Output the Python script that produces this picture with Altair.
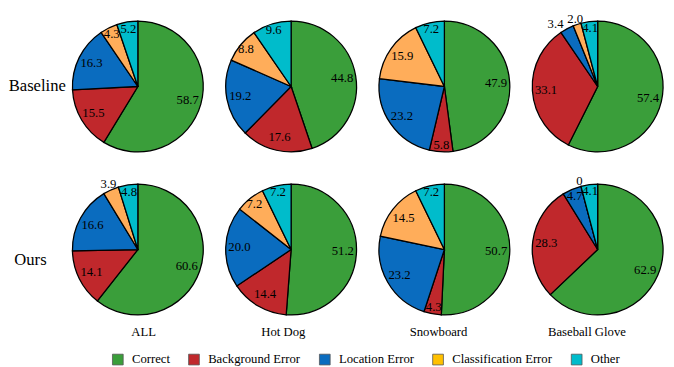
import altair as alt
import pandas as pd

categories = ["Correct", "Background Error", "Location Error", "Classification Error", "Other"]
groups = ["ALL", "Hot Dog", "Snowboard", "Baseball Glove"]
methods = ["Baseline", "Ours"]

baseline_all = [58.7, 15.5, 16.3, 4.3, 5.2]
baseline_hotdog = [44.8, 17.6, 19.2, 8.8, 9.6]
baseline_snowboard = [47.9, 5.8, 23.2, 15.9, 7.2]
baseline_glove = [57.4, 33.1, 3.4, 2.0, 4.1]
ours_all = [60.6, 14.1, 16.6, 3.9, 4.8]
ours_hotdog = [51.2, 14.4, 20.0, 7.2, 7.2]
ours_snowboard = [50.7, 4.3, 23.2, 14.5, 7.2]
ours_glove = [62.9, 28.3, 4.7, 0.0, 4.1]

pie_colors = ["#3a9e3a", "#c0282c", "#0a6cbf", "#ffad5a", "#00bccb"]
legend_colors = ["#3a9e3a", "#c0282c", "#0a6cbf", "#ffc000", "#00bccb"]

series = {
    ("Baseline", "ALL"): baseline_all,
    ("Baseline", "Hot Dog"): baseline_hotdog,
    ("Baseline", "Snowboard"): baseline_snowboard,
    ("Baseline", "Baseball Glove"): baseline_glove,
    ("Ours", "ALL"): ours_all,
    ("Ours", "Hot Dog"): ours_hotdog,
    ("Ours", "Snowboard"): ours_snowboard,
    ("Ours", "Baseball Glove"): ours_glove,
}

# small manual label nudges (degrees, extra radius), as in the original figure
nudges = {("Baseline", "Baseball Glove", "Location Error"): (-6, 4)}

records = []
for (m, g), vals in series.items():
    for i, (c, v) in enumerate(zip(categories, vals)):
        nd, nr = nudges.get((m, g, c), (0, 0))
        records.append(dict(method=m, group=g, cat=c, order=i, value=v,
                            label=("0" if v == 0 else f"{v:.1f}"), nd=nd, nr=nr))
df = pd.DataFrame(records)

FONT = "Liberation Serif"
R = 67
PW, PH = 136, 144
CX, CY = 68, 76
LW = 60
HSP = 17
label_dx = {"ALL": 8, "Hot Dog": -2, "Snowboard": 4, "Baseball Glove": 3}


def pie(m, g):
    filt = (alt.datum.method == m) & (alt.datum.group == g)
    arcs = alt.Chart(df).transform_filter(filt).mark_arc(
        outerRadius=R, stroke="black", strokeWidth=1.3
    ).encode(
        theta=alt.Theta("value:Q", stack=True),
        order=alt.Order("order:Q", sort="ascending"),
        x=alt.value(CX),
        y=alt.value(CY),
        color=alt.Color("cat:N", scale=alt.Scale(domain=categories, range=pie_colors), legend=None),
    )
    labels = alt.Chart(df).transform_filter(filt).transform_joinaggregate(
        total="sum(value)"
    ).transform_window(
        cum="sum(value)", sort=[alt.SortField("order")], frame=[None, 0]
    ).transform_calculate(
        mid="(datum.cum - datum.value / 2) / datum.total * 2 * PI + datum.nd * PI / 180",
        lr="(datum.value < 4 ? 73 : (datum.value < 10 ? 60 : 53)) + datum.nr",
    ).mark_text(font=FONT, fontSize=13, color="black").encode(
        theta=alt.Theta("mid:Q", scale=None, stack=None),
        radius=alt.Radius("lr:Q", scale=None),
        x=alt.value(CX),
        y=alt.value(CY),
        text="label:N",
    )
    return alt.layer(arcs, labels).properties(width=PW, height=PH)


def row_label(m, x, y):
    return alt.Chart(pd.DataFrame({"method": [m]})).mark_text(
        font=FONT, fontSize=17, align="center", baseline="middle", color="black"
    ).encode(text="method:N", x=alt.value(x), y=alt.value(y)).properties(width=LW, height=PH)


def col_label(g):
    return alt.Chart(pd.DataFrame({"group": [g]})).mark_text(
        font=FONT, fontSize=13, align="center", baseline="middle", color="black"
    ).encode(text="group:N", x=alt.value(PW / 2 + label_dx[g]), y=alt.value(15)).properties(width=PW, height=26)


blank = alt.Chart(pd.DataFrame({"a": [0]})).mark_point(opacity=0, size=0).encode(
    x=alt.value(0), y=alt.value(0)
).properties(width=LW, height=26)

row1 = alt.hconcat(row_label("Baseline", 30, 76),
                   alt.hconcat(*[pie("Baseline", g) for g in groups], spacing=HSP), spacing=3)
row2 = alt.hconcat(row_label("Ours", 23, 87),
                   alt.hconcat(*[pie("Ours", g) for g in groups], spacing=HSP), spacing=3)
labels_row = alt.hconcat(blank, alt.hconcat(*[col_label(g) for g in groups], spacing=HSP), spacing=3)

legend_chart = alt.Chart(pd.DataFrame({"cat": categories})).mark_square(size=0, opacity=1).encode(
    color=alt.Color(
        "cat:N",
        scale=alt.Scale(domain=categories, range=legend_colors),
        legend=alt.Legend(
            title=None, orient="none", legendX=106, legendY=10, direction="horizontal",
            symbolType="square", symbolSize=121, symbolStrokeColor="#555555",
            symbolStrokeWidth=0.8, symbolOpacity=1,
            labelFont=FONT, labelFontSize=13, labelColor="black", labelOffset=8,
            columnPadding=17, padding=0,
        ),
    )
).properties(width=LW + 3 + 4 * PW + 3 * HSP, height=23)

chart = alt.vconcat(
    alt.vconcat(row1, row2, spacing=20),
    labels_row,
    legend_chart,
    spacing=0,
).resolve_scale(color="independent").properties(
    padding={"left": 0, "top": 0, "right": 0, "bottom": 0}
).configure(font=FONT).configure_view(stroke=None)

chart.save("out.html", embed_options={"renderer": "svg", "actions": False})
